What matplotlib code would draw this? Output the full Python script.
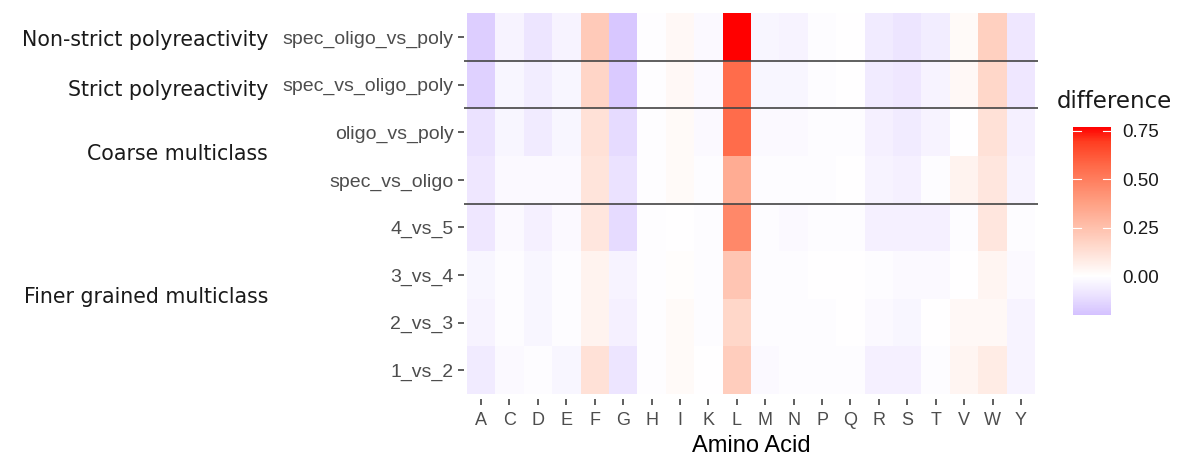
import matplotlib
matplotlib.use("Agg")
import matplotlib.pyplot as plt
import numpy as np
from matplotlib.colors import LinearSegmentedColormap, Normalize

# aminoácidos no eixo x e comparações no eixo y (de cima para baixo)
aminoacidos = ["A", "C", "D", "E", "F", "G", "H", "I", "K", "L",
               "M", "N", "P", "Q", "R", "S", "T", "V", "W", "Y"]
comparacoes = ["spec_oligo_vs_poly", "spec_vs_oligo_poly", "oligo_vs_poly",
               "spec_vs_oligo", "4_vs_5", "3_vs_4", "2_vs_3", "1_vs_2"]

# diferença de frequência por comparação
spec_oligo_vs_poly = [-0.16, -0.04, -0.09, -0.04, 0.21, -0.18, -0.005, 0.03, -0.02, 0.77,
                      -0.03, -0.04, -0.01, 0.0, -0.07, -0.09, -0.06, 0.02, 0.19, -0.08]
spec_vs_oligo_poly = [-0.15, -0.03, -0.06, -0.03, 0.17, -0.17, -0.005, 0.03, -0.02, 0.56,
                      -0.03, -0.03, -0.01, 0.0, -0.07, -0.08, -0.04, 0.03, 0.16, -0.08]
oligo_vs_poly = [-0.10, -0.03, -0.07, -0.03, 0.12, -0.12, -0.005, 0.02, -0.02, 0.56,
                 -0.02, -0.02, -0.01, -0.01, -0.05, -0.07, -0.04, 0.0, 0.12, -0.05]
spec_vs_oligo = [-0.08, -0.02, -0.02, -0.02, 0.11, -0.10, -0.005, 0.02, -0.01, 0.33,
                 -0.01, -0.01, -0.01, 0.0, -0.04, -0.05, -0.01, 0.05, 0.10, -0.04]
v4_vs_5 = [-0.08, -0.02, -0.05, -0.02, 0.10, -0.12, -0.005, 0.0, -0.01, 0.46,
           -0.01, -0.02, -0.01, -0.01, -0.05, -0.05, -0.05, -0.01, 0.10, -0.01]
v3_vs_4 = [-0.03, -0.01, -0.03, -0.01, 0.05, -0.04, -0.005, 0.01, -0.01, 0.23,
           -0.01, -0.01, 0.0, 0.0, -0.01, -0.02, -0.02, 0.0, 0.04, -0.02]
v2_vs_3 = [-0.04, -0.01, -0.03, -0.01, 0.05, -0.05, -0.005, 0.02, -0.01, 0.16,
           -0.01, -0.01, -0.01, 0.0, -0.02, -0.03, 0.0, 0.03, 0.03, -0.04]
v1_vs_2 = [-0.07, -0.02, -0.01, -0.03, 0.12, -0.09, -0.005, 0.02, 0.0, 0.20,
           -0.02, -0.01, -0.01, -0.01, -0.05, -0.05, -0.01, 0.04, 0.08, -0.04]

# rótulos de grupo à esquerda e a posição (em linhas) de cada um
grupos = ["Non-strict polyreactivity", "Strict polyreactivity",
          "Coarse multiclass", "Finer grained multiclass"]
grupos_pos = [0, 1.05, 2.4, 5.4]
divisoes = [0.5, 1.5, 3.5]

valores = np.array([spec_oligo_vs_poly, spec_vs_oligo_poly, oligo_vs_poly, spec_vs_oligo,
                    v4_vs_5, v3_vs_4, v2_vs_3, v1_vs_2])

# escala divergente: lilás abaixo de zero, branco no zero, vermelho no máximo
vmin, vmax = -0.20, 0.77
pontos = [-0.20, -0.10, 0.0, 0.1925, 0.385, 0.5775, 0.693, 0.77]
cores = ["#d4c1ff", "#ebe2ff", "#ffffff", "#ffcfbf", "#ff9e81", "#ff6746", "#ff3e21", "#ff0000"]
cmap = LinearSegmentedColormap.from_list(
    "dif", [((p - vmin) / (vmax - vmin), c) for p, c in zip(pontos, cores)])
norma = Normalize(vmin, vmax)

fig = plt.figure(figsize=(11.82, 4.55), dpi=100)
ax = fig.add_axes([464 / 1182, 56.2 / 455, 574 / 1182, 390.3 / 455])

ax.pcolormesh(np.arange(len(aminoacidos) + 1) - 0.5,
              np.arange(len(comparacoes) + 1) - 0.5,
              valores, cmap=cmap, norm=norma)
ax.set_xlim(-0.6, len(aminoacidos) - 0.4)
ax.set_ylim(len(comparacoes) - 0.4, -0.6)
for s in ax.spines.values():
    s.set_visible(False)

fonte_ticks = ["Liberation Sans", "DejaVu Sans"]
ax.set_xticks(range(len(aminoacidos)))
ax.set_xticklabels(aminoacidos, fontsize=13, color="#4d4d4d", family=fonte_ticks)
ax.set_yticks(range(len(comparacoes)))
ax.set_yticklabels(comparacoes, fontsize=14, color="#4d4d4d", family=fonte_ticks)
ax.tick_params(length=4.5, width=1.1, color="#333333")
ax.tick_params(axis="x", pad=5)
ax.tick_params(axis="y", pad=3)
ax.set_xlabel("Amino Acid", fontsize=17, family=fonte_ticks, labelpad=4.5)

# linhas separando os grupos
for d in divisoes:
    ax.axhline(d, color="#444444", lw=1.2, zorder=5)

for nome, pos in zip(grupos, grupos_pos):
    ax.annotate(nome, xy=(0, pos), xycoords=("figure fraction", "data"),
                xytext=(268, -3), textcoords="offset pixels",
                ha="right", va="center", fontsize=14.8, color="#1a1a1a",
                family="DejaVu Sans", annotation_clip=False)

# barra de cores
cax = fig.add_axes([1073 / 1182, 140 / 455, 38 / 1182, 188.3 / 455])
sm = plt.cm.ScalarMappable(norm=norma, cmap=cmap)
cb = fig.colorbar(sm, cax=cax, ticks=[0, 0.25, 0.5, 0.75])
cb.outline.set_visible(False)
cb.ax.set_yticklabels(["0.00", "0.25", "0.50", "0.75"])
cb.ax.tick_params(length=0, labelsize=13.5, labelcolor="#1a1a1a", pad=8)
for lab in cb.ax.get_yticklabels():
    lab.set_family(fonte_ticks)
for t in [0, 0.25, 0.5, 0.75]:
    cax.plot([0, 0.2], [t, t], color="white", lw=0.8, transform=cax.get_yaxis_transform())
    cax.plot([0.8, 1], [t, t], color="white", lw=0.8, transform=cax.get_yaxis_transform())
fig.text(1057 / 1182, 1 - 101 / 455, "difference", fontsize=16.5, family="DejaVu Sans",
         ha="left", va="center", color="#1a1a1a")

fig.savefig("out.png", dpi=100, facecolor="white")
